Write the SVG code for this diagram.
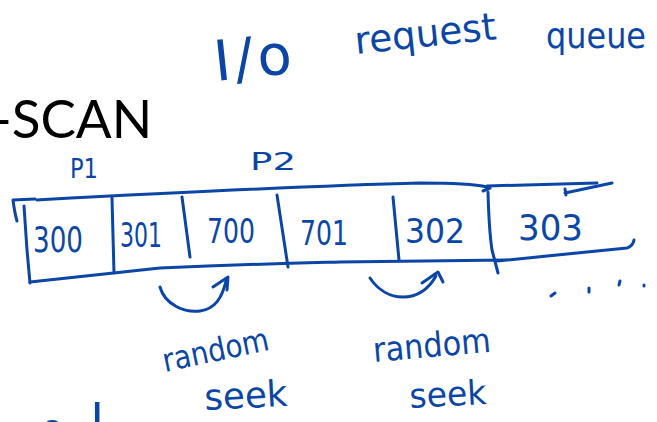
<svg xmlns="http://www.w3.org/2000/svg" width="657" height="422" viewBox="0 0 657 422">
  <style>
    .ink { fill: none; stroke: #0b46a6; stroke-width: 3; stroke-linecap: round; stroke-linejoin: round; }
    .hand { fill: #0b46a6; font-family: "DejaVu Sans", "Noto Sans", sans-serif; }
    .title { fill: #000; font-family: Lato, "Open Sans", sans-serif; font-size: 53px; }
  </style>
  <rect width="657" height="422" fill="#fff"/>

  <!-- slide heading, partly off the left edge -->
  <text class="title" x="-8" y="138">-SCAN</text>

  <!-- queue caption -->
  <g id="caption">
    <text class="hand" transform="translate(216,81) rotate(-6)" font-size="56" letter-spacing="4">I/o</text>
    <text class="hand" transform="translate(356,54) rotate(-6)" font-size="38" textLength="142" lengthAdjust="spacingAndGlyphs">request</text>
    <text class="hand" x="546" y="48" font-size="36" textLength="100" lengthAdjust="spacingAndGlyphs">queue</text>
  </g>

  <!-- process labels -->
  <text class="hand" x="70" y="178" font-size="26" textLength="28" lengthAdjust="spacingAndGlyphs">P1</text>
  <text class="hand" x="250" y="170" font-size="24" textLength="46" lengthAdjust="spacingAndGlyphs">P2</text>

  <!-- request queue box -->
  <g id="queue">
    <path class="ink" d="M13,200 L35,199 M13,200 C14,208 15,214 17,221"/>
    <path class="ink" d="M37,200 C150,194 300,186 420,183 Q470,183 487,187 M487,186 L597,183"/>
    <path class="ink" d="M565,193 L612,183 M565,189 L566,195"/>
    <path class="ink" d="M483,191 L490,188"/>
    <path class="ink" d="M24,206 L27,250 L30,283"/>
    <path class="ink" d="M30,282 L160,268 C250,264 300,263 340,262 L507,260 M497,261 L627,248 Q633,246 634,240"/>
    <path class="ink" d="M112,198 L114,273"/>
    <path class="ink" d="M182,197 L190,257"/>
    <path class="ink" d="M277,195 L288,267"/>
    <path class="ink" d="M393,197 L399,260"/>
    <path class="ink" d="M488,192 Q489,230 492,250 L498,273"/>
  </g>

  <!-- queue entries -->
  <g id="entries">
    <text class="hand" x="33" y="252" font-size="36" textLength="50" lengthAdjust="spacingAndGlyphs">300</text>
    <text class="hand" x="120" y="247" font-size="34" textLength="42" lengthAdjust="spacingAndGlyphs">301</text>
    <text class="hand" x="207" y="243" font-size="34" textLength="48" lengthAdjust="spacingAndGlyphs">700</text>
    <text class="hand" x="300" y="245" font-size="34" textLength="48" lengthAdjust="spacingAndGlyphs">701</text>
    <text class="hand" x="405" y="243" font-size="34" textLength="60" lengthAdjust="spacingAndGlyphs">302</text>
    <text class="hand" x="518" y="240" font-size="36" textLength="65" lengthAdjust="spacingAndGlyphs">303</text>
  </g>

  <!-- seek arcs -->
  <g id="connectors">
    <path class="ink" d="M160,287 C165,305 185,313 200,311 C215,309 222,298 226,281"/>
    <path class="ink" d="M213,287 L228,277 L227,290"/>
    <path class="ink" d="M370,278 C378,290 390,297 403,297 C418,297 428,290 436,276"/>
    <path class="ink" d="M422,283 L438,272 L443,282"/>
  </g>

  <!-- trailing dots -->
  <path class="ink" d="M551,296 L555,293 M589,288 L589,292 M620,281 L619,285 M644,285 L644,286"/>

  <!-- annotations -->
  <g id="seek1">
    <text class="hand" transform="translate(165,372) rotate(-12)" font-size="32" textLength="108" lengthAdjust="spacingAndGlyphs">random</text>
    <text class="hand" transform="translate(205,410) rotate(-3)" font-size="36" textLength="83" lengthAdjust="spacingAndGlyphs">seek</text>
  </g>
  <g id="seek2">
    <text class="hand" transform="translate(374,362) rotate(-5)" font-size="34" textLength="118" lengthAdjust="spacingAndGlyphs">random</text>
    <text class="hand" transform="translate(410,408) rotate(-3)" font-size="34" textLength="77" lengthAdjust="spacingAndGlyphs">seek</text>
  </g>

  <!-- note running off the bottom edge -->
  <text class="hand" x="44" y="437" font-size="30">a</text>
  <text class="hand" transform="translate(104,486) scale(1,2.2)" font-size="50" text-anchor="end">d</text>
</svg>
